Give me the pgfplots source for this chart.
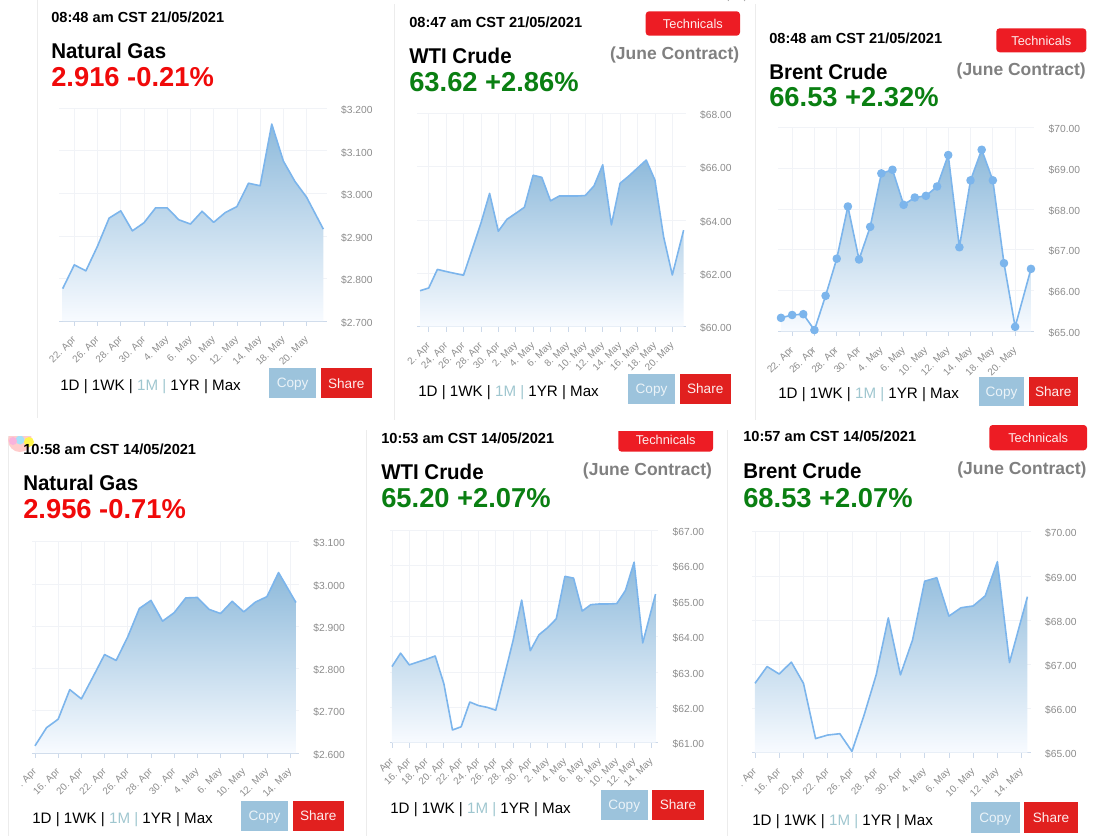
\documentclass[border=0pt]{standalone}
\usepackage{pgfplots}
\usepackage{pgfplotstable}
\usepackage{fontspec}
\setmainfont{Liberation Sans}
\pgfplotsset{compat=1.18}
\definecolor{lin}{HTML}{7CB5EC}
\definecolor{topc}{HTML}{8EBADB}
\definecolor{botc}{HTML}{F8FBFF}
\definecolor{gridc}{HTML}{F1F3F7}
\definecolor{axc}{HTML}{CCD9EA}
\definecolor{tickc}{HTML}{8C8C8C}
\definecolor{teal1}{HTML}{9FC6CF}
\definecolor{copyc}{HTML}{9CC3DC}
\definecolor{sharec}{HTML}{E1201F}
\definecolor{techc}{HTML}{ED1C24}
\definecolor{greenp}{HTML}{0A7F12}
\definecolor{redp}{HTML}{F00A0A}
\definecolor{edgec}{HTML}{ECECEC}

\pgfplotstableread{
x y
0 2.776
1 2.832
2 2.818
3 2.876
4 2.942
5 2.959
6 2.912
7 2.931
8 2.966
9 2.966
10 2.938
11 2.928
12 2.958
13 2.932
14 2.955
15 2.969
16 3.024
17 3.018
18 3.163
19 3.076
20 3.028
21 2.991
22.44 2.916
}\dataA
\pgfplotstableread{
x y
0 61.35
1 61.45
2 62.15
3 62.07
4 62.00
5 61.93
6 62.90
7 63.88
8 65.00
9 63.58
10 64.03
11 64.25
12 64.48
13 65.68
14 65.60
15 64.72
16 64.90
17 64.90
18 64.90
19 64.92
20 65.28
21 66.07
22 63.82
23 65.38
24 65.65
25 65.95
26 66.25
27 65.50
28 63.37
29 61.94
30.3 63.62
}\dataB
\pgfplotstableread{
x y
0 65.33
1 65.40
2 65.42
3 65.03
4 65.87
5 66.78
6 68.06
7 66.76
8 67.56
9 68.87
10 68.96
11 68.10
12 68.28
13 68.32
14 68.55
15 69.32
16 67.06
17 68.70
18 69.45
19 68.70
20 66.67
21 65.11
22.42 66.53
}\dataC
\pgfplotstableread{
x y
0 2.617
1 2.660
2 2.680
3 2.750
4 2.728
5 2.780
6 2.833
7 2.819
8 2.875
9 2.942
10 2.961
11 2.912
12 2.932
13 2.967
14 2.968
15 2.940
16 2.930
17 2.959
18 2.934
19 2.957
20 2.970
21 3.027
22.5 2.956
}\dataD
\pgfplotstableread{
x y
0 63.15
1 63.53
2 63.20
3 63.28
4 63.36
5 63.45
6 62.67
7 61.36
8 61.45
9 62.15
10 62.05
11 62.00
12 61.92
13 62.89
14 63.88
15 65.03
16 63.60
17 64.05
18 64.25
19 64.50
20 65.70
21 65.65
22 64.72
23 64.90
24 64.92
25 64.92
26 64.93
27 65.30
28 66.10
29 63.82
30.48 65.20
}\dataE
\pgfplotstableread{
x y
0 66.57
1 66.95
2 66.78
3 67.05
4 66.57
5 65.32
6 65.40
7 65.43
8 65.03
9 65.85
10 66.76
11 68.05
12 66.76
13 67.55
14 68.88
15 68.96
16 68.09
17 68.28
18 68.32
19 68.55
20 69.32
21 67.04
22.48 68.53
}\dataF

\pgfplotsset{chart/.style={
  scale only axis,
  anchor=south west,
  clip=false,
  axis x line=bottom,
  axis y line=right,
  axis line style={-},
  x axis line style={draw=axc,line width=0.75pt},
  y axis line style={draw=none},
  tick align=outside,
  major tick length=3.6pt,
  xmajorgrids,ymajorgrids,
  major grid style={draw=gridc,line width=0.6pt},
  x tick style={draw=axc,line width=0.6pt},
  y tick style={draw=none},
  x tick label style={font=\fontsize{7.4}{8}\selectfont,text=tickc,rotate=45,anchor=north east,inner sep=0pt,xshift=-6.5pt,yshift=-3.5pt},
  y tick label style={font=\fontsize{7.7}{9}\selectfont,text=tickc,anchor=west,inner sep=0pt,xshift=7pt,yshift=-1.3pt},
}}
\newcommand{\series}[1]{%
  \addplot[draw=none,top color=topc,bottom color=botc] table[x=x,y=y]{#1} \closedcycle;
  \addplot[lin,line width=1.2pt,line join=round,no marks] table[x=x,y=y]{#1};
}
\newcommand{\ttime}[3]{\node[anchor=mid west,inner sep=0pt,yshift=-1.5pt,font=\fontsize{10.95}{12}\selectfont\bfseries] at (#1,#2) {#3};}
\newcommand{\ttitle}[3]{\node[anchor=mid west,inner sep=0pt,yshift=-3.75pt,xscale=0.96,font=\fontsize{16}{18}\selectfont\bfseries] at (#1,#2) {#3};}
\newcommand{\tprice}[4]{\node[anchor=mid west,inner sep=0pt,yshift=-4.5pt,text=#4,font=\fontsize{20.5}{22}\selectfont\bfseries] at (#1,#2) {#3};}
\newcommand{\tjune}[2]{\node[anchor=mid east,inner sep=0pt,yshift=-2.25pt,text=gray,font=\fontsize{13.1}{16}\selectfont\bfseries] at (#1,#2) {(June Contract)};}
\newcommand{\trow}[2]{\node[anchor=mid west,inner sep=0pt,yshift=-1.5pt,font=\fontsize{11.35}{14}\selectfont] at (#1,#2) {1D | 1WK | \textcolor{teal1}{1M |} 1YR | Max};}
\newcommand{\btns}[6]{% copy l, copy r, share l, share r, top, bottom
  \fill[copyc] (#1,#5) rectangle (#2,#6);
  \fill[sharec] (#3,#5) rectangle (#4,#6);
  \node[text=white!80!copyc,yshift=-1pt,font=\fontsize{10.2}{12}\selectfont] at ({(#1+#2)/2},{(#5+#6)/2}) {Copy};
  \node[text=white!92!sharec,font=\fontsize{10.2}{12}\selectfont] at ({(#3+#4)/2},{(#5+#6)/2}) {Share};
}
\newcommand{\tech}[4]{%
  \fill[techc,rounded corners=2.5pt] (#1,#3) rectangle (#2,#4);
  \node[text=white!92!techc,yshift=-0.5pt,font=\fontsize{9.6}{12}\selectfont] at ({(#1+#2)/2},{(#3+#4)/2}) {Technicals};
}

\begin{document}
\begin{tikzpicture}[x=0.75pt,y=-0.75pt]
\path[use as bounding box] (0,0) rectangle (1094,836);
\coordinate (p1) at (59.3,321);
\coordinate (p2) at (417.3,326.7);
\coordinate (p3) at (778.3,331.3);
\coordinate (p4) at (32.3,753);
\coordinate (p5) at (390.3,742.7);
\coordinate (p6) at (752.3,752.7);
\begin{scope}
\clip (0,0) rectangle (1094,836);
% faint card edges
\draw[edgec,line width=0.6pt] (37,0) -- (37,418) (394,4) -- (394,420) (755,4) -- (755,420)
  (8,435) -- (8,836) (366,430) -- (366,836) (727.5,430) -- (727.5,836);
\draw[gray!70,line width=0.6pt] (728,1) arc[start angle=200,end angle=340,radius=9];
% badge blob
\fill[red!20!white] (20,440) circle[radius=12];
\fill[cyan!35!white] (20,440) circle[radius=4.5];
\fill[yellow!70!white] (29,442) circle[radius=5];
\fill[magenta!30!white] (13,441) circle[radius=4];
\fill[white] (0,420) rectangle (40,435.5);
\fill[white] (0,420) rectangle (8,460);
\end{scope}

% ---- Panel 1
\begin{axis}[chart,at={(p1)},width=200.55pt,height=159.5pt,
  xmin=-0.29,xmax=22.73,ymin=2.7,ymax=3.2,
  xtick={1,3,5,7,9,11,13,15,17,19,21},
  xticklabels={22. Apr,26. Apr,28. Apr,30. Apr,4. May,6. May,10. May,12. May,14. May,18. May,20. May},
  ytick={2.7,2.8,2.9,3.0,3.1,3.2},
  yticklabels={\$2.700,\$2.800,\$2.900,\$3.000,\$3.100,\$3.200}]
\series{\dataA}
\end{axis}
\ttime{51}{17}{08:48 am CST 21/05/2021}
\ttitle{51}{50}{Natural Gas}
\tprice{51}{77}{2.916 -0.21\%}{redp}
\trow{60}{385}
\btns{269.3}{316}{320.7}{371.7}{368.3}{398.3}

% ---- Panel 2
\begin{axis}[chart,at={(p2)},width=201.3pt,height=160pt,
  xmin=-0.31,xmax=30.54,ymin=60,ymax=68,
  xtick={1,3,5,7,9,11,13,15,17,19,21,23,25,27,29},
  xticklabels={2. Apr,24. Apr,26. Apr,28. Apr,30. Apr,2. May,4. May,6. May,8. May,10. May,12. May,14. May,16. May,18. May,20. May},
  ytick={60,62,64,66,68},
  yticklabels={\$60.00,\$62.00,\$64.00,\$66.00,\$68.00}]
\series{\dataB}
\end{axis}
\ttime{409}{22}{08:47 am CST 21/05/2021}
\ttitle{409}{55}{WTI Crude}
\tprice{409}{82}{63.62 +2.86\%}{greenp}
\tjune{739.5}{53}
\tech{645.7}{740}{11.3}{35.7}
\trow{418}{391}
\btns{628}{675}{679.7}{730.7}{374}{404}

% ---- Panel 3
\begin{axis}[chart,at={(p3)},width=192pt,height=153pt,
  xmin=-0.24,xmax=22.72,ymin=65,ymax=70,
  xtick={1,3,5,7,9,11,13,15,17,19,21},
  xticklabels={22. Apr,26. Apr,28. Apr,30. Apr,4. May,6. May,10. May,12. May,14. May,18. May,20. May},
  ytick={65,66,67,68,69,70},
  yticklabels={\$65.00,\$66.00,\$67.00,\$68.00,\$69.00,\$70.00}]
\addplot[draw=none,top color=topc,bottom color=botc] table[x=x,y=y]{\dataC} \closedcycle;
\addplot[lin,line width=1.2pt,line join=round,mark=*,mark size=2.6pt,mark options={fill=lin,draw=lin}] table[x=x,y=y]{\dataC};
\end{axis}
\ttime{769}{38}{08:48 am CST 21/05/2021}
\ttitle{769}{71}{Brent Crude}
\tprice{769}{97}{66.53 +2.32\%}{greenp}
\tjune{1086}{69}
\tech{996.3}{1086.3}{28.3}{52.3}
\trow{778}{393}
\btns{979}{1024}{1028.7}{1077.7}{377.3}{405.7}

% ---- Panel 4
\begin{axis}[chart,at={(p4)},width=200pt,height=158.5pt,
  xmin=-0.23,xmax=22.76,ymin=2.6,ymax=3.1,
  xtick={0,2,4,6,8,10,12,14,16,18,20,22},
  xticklabels={. Apr,16. Apr,20. Apr,22. Apr,26. Apr,28. Apr,30. Apr,4. May,6. May,10. May,12. May,14. May},
  ytick={2.6,2.7,2.8,2.9,3.0,3.1},
  yticklabels={\$2.600,\$2.700,\$2.800,\$2.900,\$3.000,\$3.100}]
\series{\dataD}
\end{axis}
\ttime{23}{449}{10:58 am CST 14/05/2021}
\ttitle{23}{482}{Natural Gas}
\tprice{23}{509}{2.956 -0.71\%}{redp}
\trow{32}{818}
\btns{241}{288}{292.7}{343.7}{800.7}{830.7}

% ---- Panel 5
\begin{axis}[chart,at={(p5)},width=201pt,height=159.3pt,
  xmin=-0.19,xmax=30.8,ymin=61,ymax=67,
  xtick={0,2,4,6,8,10,12,14,16,18,20,22,24,26,28,30},
  xticklabels={Apr,16. Apr,18. Apr,20. Apr,22. Apr,24. Apr,26. Apr,28. Apr,30. Apr,2. May,4. May,6. May,8. May,10. May,12. May,14. May},
  ytick={61,62,63,64,65,66,67},
  yticklabels={\$61.00,\$62.00,\$63.00,\$64.00,\$65.00,\$66.00,\$67.00}]
\series{\dataE}
\end{axis}
\ttime{381}{438}{10:53 am CST 14/05/2021}
\ttitle{381}{471}{WTI Crude}
\tprice{381}{498}{65.20 +2.07\%}{greenp}
\tjune{712.3}{469.3}
\begin{scope}
\clip (600,431) rectangle (730,460);
\tech{618.3}{713}{426}{451.7}
\end{scope}
\trow{390}{808}
\btns{600.7}{647.7}{652.3}{703.7}{790}{820}

% ---- Panel 6
\begin{axis}[chart,at={(p6)},width=208.8pt,height=165.75pt,
  xmin=-0.22,xmax=22.75,ymin=65,ymax=70,
  xtick={0,2,4,6,8,10,12,14,16,18,20,22},
  xticklabels={. Apr,16. Apr,20. Apr,22. Apr,26. Apr,28. Apr,30. Apr,4. May,6. May,10. May,12. May,14. May},
  ytick={65,66,67,68,69,70},
  yticklabels={\$65.00,\$66.00,\$67.00,\$68.00,\$69.00,\$70.00}]
\series{\dataF}
\end{axis}
\ttime{743}{436}{10:57 am CST 14/05/2021}
\ttitle{743}{470}{Brent Crude}
\tprice{743}{498}{68.53 +2.07\%}{greenp}
\tjune{1086.7}{468}
\tech{989.3}{1087}{425}{450.3}
\trow{752}{820}
\btns{970.7}{1019.7}{1024.3}{1077.7}{802.3}{833.3}
\end{tikzpicture}
\end{document}
